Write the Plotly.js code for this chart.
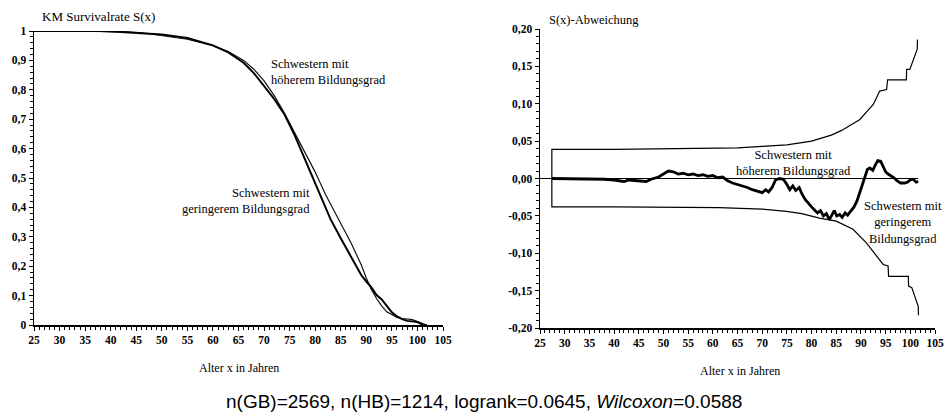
<!DOCTYPE html>
<html>
<head>
<meta charset="utf-8">
<script src="https://cdn.plot.ly/plotly-3.0.1.min.js"></script>
<style>
html,body{margin:0;padding:0;background:#fff;}
#chart{width:945px;height:416px;}
</style>
</head>
<body>
<div id="chart"></div>
<script>
// ---------- Data ----------
// Left panel: Kaplan-Meier survival curves
const kmAges = [25, 38, 42, 46, 50, 55, 60, 63, 66, 68, 70, 72, 74, 76, 78, 80, 82, 83, 85, 87, 89, 90, 91, 92, 93, 94, 95, 96, 97, 98, 99, 100, 101, 101.8];
const kmGB   = [1, 1, 0.998, 0.994, 0.984, 0.972, 0.95, 0.93, 0.90, 0.87, 0.83, 0.78, 0.72, 0.655, 0.585, 0.52, 0.445, 0.41, 0.345, 0.28, 0.205, 0.16, 0.12, 0.09, 0.065, 0.045, 0.035, 0.026, 0.022, 0.02, 0.018, 0.012, 0.004, 0];
const kmHB   = [1, 1, 0.997, 0.993, 0.988, 0.976, 0.951, 0.927, 0.892, 0.857, 0.813, 0.768, 0.716, 0.645, 0.563, 0.483, 0.398, 0.36, 0.295, 0.232, 0.17, 0.148, 0.128, 0.102, 0.087, 0.065, 0.043, 0.029, 0.02, 0.014, 0.012, 0.01, 0.001, 0];

// Right panel: difference of survival rates
const diffAges = [27.4, 30, 33, 36, 38, 40, 42, 43, 45, 46.5, 47.5, 49, 50, 51, 52, 53, 54, 55, 56, 57, 58, 59, 60, 61, 62, 63, 64, 65, 66, 67, 68, 69, 70, 70.7, 71.3, 72, 72.7, 73.5, 74.3, 75, 75.6, 76.2, 76.8, 77.5, 78, 78.7, 79.3, 80, 80.6, 81.2, 81.8, 82.4, 83, 83.6, 84.1, 84.6, 85.1, 85.7, 86.2, 86.8, 87.3, 88, 88.6, 89.2, 89.8, 90.3, 90.8, 91.3, 91.8, 92.4, 92.9, 93.4, 94, 94.5, 95, 95.5, 96, 96.7, 97.3, 98, 98.8, 99.4, 100, 100.6, 101.2, 101.6];
const diffVals = [0, 0, 0, -0.001, -0.001, -0.002, -0.004, -0.002, -0.003, -0.004, -0.001, 0.002, 0.006, 0.01, 0.009, 0.006, 0.007, 0.005, 0.006, 0.004, 0.005, 0.003, 0.004, 0.001, 0.002, -0.003, -0.006, -0.008, -0.009, -0.012, -0.015, -0.017, -0.019, -0.015, -0.018, -0.012, -0.002, 0, -0.001, -0.008, -0.015, -0.01, -0.016, -0.012, -0.02, -0.028, -0.033, -0.038, -0.042, -0.046, -0.043, -0.05, -0.047, -0.055, -0.049, -0.043, -0.05, -0.048, -0.052, -0.046, -0.049, -0.043, -0.038, -0.03, -0.018, -0.006, 0.004, 0.012, 0.014, 0.011, 0.018, 0.024, 0.023, 0.016, 0.009, 0.006, 0.004, 0.001, -0.003, -0.006, -0.006, -0.005, -0.002, -0.001, -0.005, -0.004];

const upperAges = [27.4, 27.4, 40, 50, 60, 65, 70, 75, 78, 80, 82, 84, 86, 88, 89.8, 91, 92.5, 93.8, 95.2, 95.4, 99.2, 99.25, 99.9, 101.4, 101.45];
const upperVals = [0, 0.039, 0.039, 0.040, 0.040, 0.041, 0.043, 0.045, 0.048, 0.050, 0.054, 0.058, 0.064, 0.072, 0.079, 0.088, 0.099, 0.117, 0.119, 0.132, 0.132, 0.146, 0.146, 0.173, 0.186];
const lowerAges = [27.4, 27.4, 40, 50, 61.3, 70, 74.9, 78, 81.6, 85, 88.4, 91.1, 93.2, 94.5, 95.5, 95.6, 99.6, 99.65, 100.3, 101.6, 101.65];
const lowerVals = [0, -0.038, -0.038, -0.038, -0.039, -0.041, -0.044, -0.047, -0.053, -0.057, -0.068, -0.086, -0.104, -0.115, -0.117, -0.131, -0.131, -0.144, -0.146, -0.171, -0.183];

const zeroAges = [25, 101.6];
const zeroVals = [0, 0];

// Tick labels
const xTicks = [25, 30, 35, 40, 45, 50, 55, 60, 65, 70, 75, 80, 85, 90, 95, 100, 105];
const yLeftTicks = [0, 0.1, 0.2, 0.3, 0.4, 0.5, 0.6, 0.7, 0.8, 0.9, 1];
const yLeftText = ['0', '0,1', '0,2', '0,3', '0,4', '0,5', '0,6', '0,7', '0,8', '0,9', '1'];
const yRightTicks = [-0.2, -0.15, -0.1, -0.05, 0, 0.05, 0.1, 0.15, 0.2];
const yRightText = ['-0,20', '-0,15', '-0,10', '-0,05', '0,00', '0,05', '0,10', '0,15', '0,20'];

// ---------- Layout ----------
const W = 945, H = 416;
const px = v => v / W;
const py = v => 1 - v / H;
const serif = '"Liberation Serif", "Times New Roman", serif';
const tickFont = {family: serif, size: 11.5, color: '#000', weight: 700};

const traces = [
  {x: kmAges, y: kmGB, xaxis: 'x', yaxis: 'y', mode: 'lines', line: {color: '#111', width: 1.2}, hoverinfo: 'skip'},
  {x: kmAges, y: kmHB, xaxis: 'x', yaxis: 'y', mode: 'lines', line: {color: '#000', width: 2}, hoverinfo: 'skip'},
  {x: zeroAges, y: zeroVals, xaxis: 'x2', yaxis: 'y2', mode: 'lines', line: {color: '#000', width: 1.2}, hoverinfo: 'skip'},
  {x: upperAges, y: upperVals, xaxis: 'x2', yaxis: 'y2', mode: 'lines', line: {color: '#000', width: 1.2}, hoverinfo: 'skip'},
  {x: lowerAges, y: lowerVals, xaxis: 'x2', yaxis: 'y2', mode: 'lines', line: {color: '#000', width: 1.2}, hoverinfo: 'skip'},
  {x: diffAges, y: diffVals, xaxis: 'x2', yaxis: 'y2', mode: 'lines', line: {color: '#000', width: 2.8}, hoverinfo: 'skip'}
];

const xCommon = {
  range: [25, 105], tickmode: 'array', tickvals: xTicks, ticktext: xTicks.map(String),
  ticks: 'outside', ticklen: 4, tickwidth: 1, tickcolor: '#000',
  minor: {dtick: 1, ticks: 'outside', ticklen: 3, tickwidth: 1, tickcolor: '#000'},
  showline: true, linecolor: '#000', linewidth: 1.5, showgrid: false, zeroline: false,
  tickfont: tickFont, tickangle: 0, fixedrange: true
};
const yCommon = {
  ticks: 'outside', ticklen: 4, tickwidth: 1, tickcolor: '#000',
  showline: true, linecolor: '#000', linewidth: 1.5, showgrid: false, zeroline: false,
  tickfont: tickFont, fixedrange: true
};

const layout = {
  width: W, height: H,
  margin: {l: 0, r: 0, t: 0, b: 0},
  paper_bgcolor: '#fff', plot_bgcolor: '#fff',
  showlegend: false,
  font: {family: serif, color: '#000'},
  xaxis: Object.assign({}, xCommon, {domain: [px(34), px(443)], anchor: 'y'}),
  yaxis: Object.assign({}, yCommon, {domain: [1 - 325/H, 1 - 31/H], range: [0, 1], anchor: 'x',
    tickmode: 'array', tickvals: yLeftTicks, ticktext: yLeftText,
    minor: {dtick: 0.02, ticks: 'outside', ticklen: 2.5, tickwidth: 1, tickcolor: '#000'}}),
  xaxis2: Object.assign({}, xCommon, {domain: [px(540), px(935)], anchor: 'y2'}),
  yaxis2: Object.assign({}, yCommon, {domain: [1 - 328/H, 1 - 29/H], range: [-0.2, 0.2], anchor: 'x2',
    tickmode: 'array', tickvals: yRightTicks, ticktext: yRightText,
    minor: {dtick: 0.01, ticks: 'outside', ticklen: 2.5, tickwidth: 1, tickcolor: '#000'}}),
  annotations: [
    {text: 'KM Survivalrate S(x)', x: px(40), y: py(17), xref: 'paper', yref: 'paper', xanchor: 'left', yanchor: 'middle', showarrow: false, font: {family: serif, size: 13, color: '#000'}},
    {text: 'Schwestern mit<br>höherem Bildungsgrad', x: px(269), y: py(72), xref: 'paper', yref: 'paper', xanchor: 'left', yanchor: 'middle', align: 'left', showarrow: false, font: {family: serif, size: 12.5, color: '#000'}},
    {text: 'Schwestern mit<br>geringerem Bildungsgrad', x: px(312), y: py(201), xref: 'paper', yref: 'paper', xanchor: 'right', yanchor: 'middle', align: 'right', showarrow: false, font: {family: serif, size: 12.5, color: '#000'}},
    {text: 'Alter x in Jahren', x: px(239), y: py(368), xref: 'paper', yref: 'paper', xanchor: 'center', yanchor: 'middle', showarrow: false, font: {family: serif, size: 12, color: '#000'}},
    {text: 'S(x)-Abweichung', x: px(547), y: py(20), xref: 'paper', yref: 'paper', xanchor: 'left', yanchor: 'middle', showarrow: false, font: {family: serif, size: 12.5, color: '#000'}},
    {text: 'Schwestern mit<br>höherem Bildungsgrad', x: px(793), y: py(163), xref: 'paper', yref: 'paper', xanchor: 'center', yanchor: 'middle', align: 'center', showarrow: false, font: {family: serif, size: 12.5, color: '#000'}},
    {text: 'Schwestern mit<br>geringerem<br>Bildungsgrad', x: px(903), y: py(222), xref: 'paper', yref: 'paper', xanchor: 'center', yanchor: 'middle', align: 'center', showarrow: false, font: {family: serif, size: 12.5, color: '#000'}},
    {text: 'Alter x in Jahren', x: px(740), y: py(371), xref: 'paper', yref: 'paper', xanchor: 'center', yanchor: 'middle', showarrow: false, font: {family: serif, size: 12, color: '#000'}},
    {text: 'n(GB)=2569, n(HB)=1214, logrank=0.0645, <i>Wilcoxon</i>=0.0588', x: px(484), y: py(401), xref: 'paper', yref: 'paper', xanchor: 'center', yanchor: 'middle', showarrow: false, font: {family: '"Liberation Sans", Arial, sans-serif', size: 19, color: '#000'}}
  ]
};

Plotly.newPlot('chart', traces, layout, {staticPlot: true, displayModeBar: false});
</script>
</body>
</html>
